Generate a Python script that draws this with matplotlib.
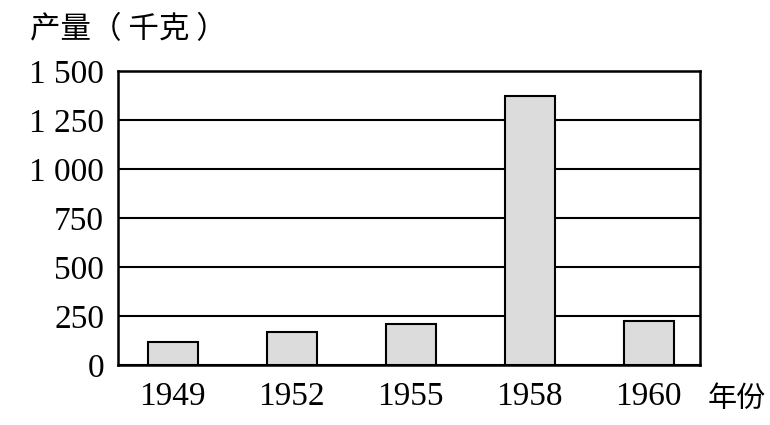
import matplotlib.pyplot as plt
import numpy as np

years = ["1949", "1952", "1955", "1958", "1960"]
values = [117, 168, 209, 1372, 224]
yticks = [0, 250, 500, 750, 1000, 1250, 1500]
ytick_labels = ["0", "250", "500", "750", "1 000", "1 250", "1 500"]

fig = plt.figure(figsize=(7.7, 4.25), dpi=100)
ax = fig.add_axes([118/770, (425-365)/425, (700-118)/770, (365-71)/425])

x = np.arange(len(years))
ax.set_axisbelow(True)
ax.yaxis.grid(True, color="black", linewidth=1.5)
ax.bar(x, values, width=0.42, color="#dcdcdc", edgecolor="black", linewidth=1.5, zorder=3)

ax.set_xlim(-0.46, 4.43)
ax.set_ylim(0, 1500)
ax.set_yticks(yticks)
ax.set_yticklabels(ytick_labels)
ax.set_xticks(x)
ax.set_xticklabels(years)
ax.tick_params(length=0, labelsize=24, pad=12)
ax.tick_params(axis="y", pad=10)
for lab in ax.get_xticklabels() + ax.get_yticklabels():
    lab.set_fontfamily("Liberation Serif")
for s in ax.spines.values():
    s.set_linewidth(1.8)

fig.text(30/770, 1 - 30/425, "产量（ 千克 ）", fontsize=22, family=["Noto Sans CJK SC", "DejaVu Sans"], va="center", ha="left")
fig.text(708/770, 1 - 399/425, "年份", fontsize=21, family=["Noto Sans CJK SC"], va="center", ha="left")

fig.savefig("out.png", dpi=100)
